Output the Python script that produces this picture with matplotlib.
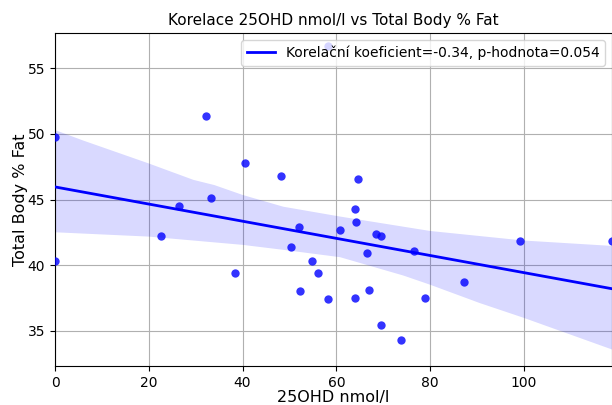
import numpy as np
import matplotlib
matplotlib.use("Agg")
import matplotlib.pyplot as plt

# 25OHD nmol/l vs Total Body % Fat
vit_d = [0.0, 32.3, 40.5, 48.1, 26.5, 33.3, 52.0, 0.0, 22.5, 38.4, 50.3,
         52.3, 54.8, 56.1, 58.3, 60.8, 64.0, 64.3, 64.7, 64.0, 66.5, 67.0,
         68.4, 69.6, 69.5, 73.7, 76.5, 78.9, 87.2, 99.1, 118.8, 58.2]
body_fat = [49.8, 51.4, 47.75, 46.8, 44.5, 45.1, 42.9, 40.3, 42.25, 39.4, 41.4,
            38.0, 40.3, 39.4, 37.4, 42.7, 44.3, 43.3, 46.6, 37.5, 40.9, 38.1,
            42.35, 42.2, 35.4, 34.3, 41.1, 37.5, 38.7, 41.8, 41.8, 56.7]
label = "Korelační koeficient=-0.34, p-hodnota=0.054"

# edges of the bootstrap 95% band
band_up_x = [0.0, 6.0, 20.0, 29.5, 34.0, 40.0, 48.7, 60.8, 80.0, 100.0, 118.8]
band_up_y = [50.3, 49.5, 47.75, 46.5, 46.1, 45.35, 44.45, 43.7, 42.6, 41.87, 41.46]
band_lo_x = [0.0, 20.0, 40.0, 48.7, 60.8, 74.3, 80.0, 90.6, 100.0, 118.8]
band_lo_y = [42.5, 42.17, 41.54, 41.16, 40.6, 39.2, 38.5, 37.1, 35.97, 33.56]

x = np.array(vit_d)
y = np.array(body_fat)

# linear fit
b, a = np.polyfit(x, y, 1)
xs = np.array([x.min(), x.max()])
ys = a + b * xs

fig = plt.figure(figsize=(6.12, 4.05), dpi=100)
ax = fig.add_axes([0.0899, 0.0963, 0.9101, 0.8222])

ax.scatter(x, y, color='blue', alpha=0.8, s=36, linewidths=0, zorder=3)
ax.plot(xs, ys, color='blue', linewidth=2, label=label, zorder=4)
ax.fill(band_up_x + band_lo_x[::-1], band_up_y + band_lo_y[::-1],
        color='blue', alpha=0.15, linewidth=0)

ax.set_xlim(x.min(), x.max())
ax.set_ylim(32.3, 57.7)
ax.set_xticks([0, 20, 40, 60, 80, 100])
ax.set_yticks([35, 40, 45, 50, 55])
ax.grid(True, color='#b0b0b0', linewidth=0.8)
ax.set_axisbelow(True)
ax.tick_params(labelsize=10)

ax.set_title("Korelace 25OHD nmol/l vs Total Body % Fat", fontsize=11)
ax.set_xlabel("25OHD nmol/l", fontsize=11.5, labelpad=0.5)
ax.set_ylabel("Total Body % Fat", fontsize=11.5, labelpad=0)
ax.legend(loc='upper right', fontsize=10)

fig.savefig("out.png", dpi=100)
